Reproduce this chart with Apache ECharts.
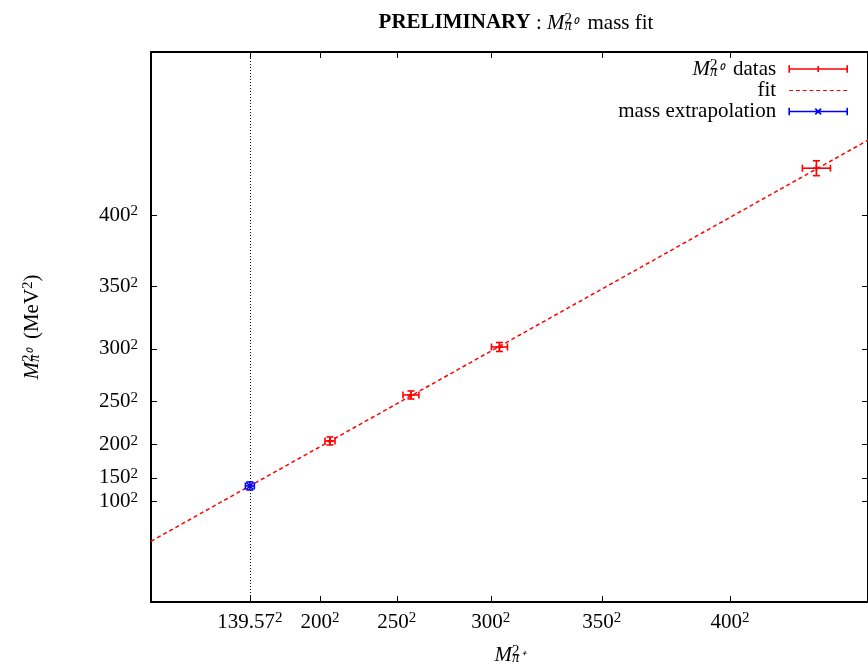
<!DOCTYPE html>
<html><head><meta charset="utf-8">
<script src="https://cdn.jsdelivr.net/npm/echarts@6/dist/echarts.min.js"></script>
<style>html,body{margin:0;padding:0;background:#fff}#c{width:868px;height:667px}</style>
</head><body><div id="c"></div>
<script>
// ---- data (MeV^2) ----
const xTickValues = [19479.78, 40000, 62500, 90000, 122500, 160000];
const xTickLabels = ['139.57', '200', '250', '300', '350', '400'];
const yTickValues = [10000, 22500, 40000, 62500, 90000, 122500, 160000];
const yTickLabels = ['100', '150', '200', '250', '300', '350', '400'];

const dataX    = [42930, 66630, 92530, 185300];
const dataY    = [41760, 65830, 90940, 184490];
const dataXErr = [1460, 2340, 2340, 4100];
const dataYErr = [2100, 2100, 2350, 3900];

const extrapX    = [19479.78];
const extrapY    = [18220];
const extrapXErr = [1300];
const extrapYErr = [2100];

const fitX = [-9460, 200400];
const fitY = [-10710, 199150];

const physPionMassSq = 19479.78;

// ---- chart ----
const FONT = 'Liberation Serif';
function rs(o) { return Object.assign({fontFamily: FONT, color: '#000', align: 'left', fontWeight: 'normal'}, o); }
const richBase = {
  n: rs({fontSize: 21, lineHeight: 22}),
  i: rs({fontSize: 21, fontStyle: 'italic', lineHeight: 22}),
  b: rs({fontSize: 21, fontWeight: 'bold', lineHeight: 22}),
  s: rs({fontSize: 15, lineHeight: 8, verticalAlign: 'top'}),
  s0: rs({fontSize: 15, lineHeight: 8, verticalAlign: 'top', width: 0}),
  u: rs({fontSize: 15, fontStyle: 'italic', lineHeight: 6, verticalAlign: 'bottom'})
};

function nearestLabel(vals, labs, v) {
  let best = 0;
  for (let k = 1; k < vals.length; k++) if (Math.abs(vals[k] - v) < Math.abs(vals[best] - v)) best = k;
  return labs[best];
}

function errRender(xs, ys, xe, ye, color, marker) {
  return function (params, api) {
    const i = params.dataIndex;
    const c = api.coord([xs[i], ys[i]]);
    const l = api.coord([xs[i] - xe[i], ys[i]]);
    const r = api.coord([xs[i] + xe[i], ys[i]]);
    const t = api.coord([xs[i], ys[i] + ye[i]]);
    const b = api.coord([xs[i], ys[i] - ye[i]]);
    const cap = 3.5, m = 3.5;
    const st = {stroke: color, lineWidth: 1.6, fill: null};
    const ln = (x1, y1, x2, y2) => ({type: 'line', shape: {x1, y1, x2, y2}, style: st});
    const ch = [
      ln(l[0], l[1], r[0], r[1]),
      ln(l[0], l[1] - cap, l[0], l[1] + cap),
      ln(r[0], r[1] - cap, r[0], r[1] + cap),
      ln(t[0], t[1], b[0], b[1]),
      ln(t[0] - cap, t[1], t[0] + cap, t[1]),
      ln(b[0] - cap, b[1], b[0] + cap, b[1])
    ];
    if (marker === 'x') {
      ch.push(ln(c[0] - m, c[1] - m, c[0] + m, c[1] + m));
      ch.push(ln(c[0] - m, c[1] + m, c[0] + m, c[1] - m));
    } else {
      ch.push(ln(c[0] - m, c[1], c[0] + m, c[1]));
      ch.push(ln(c[0], c[1] - m, c[0], c[1] + m));
    }
    return {type: 'group', children: ch};
  };
}

const xMin = -9460, xMax = 200400, yMin = -42500, yMax = 245300;
const axisCommonLine = {show: true, onZero: false, lineStyle: {color: '#000', width: 2}};
const tickStyle = {color: '#000', width: 1};
const dashIcon = 'path://M0,0h4v1h-4zM7,0h4v1h-4zM14,0h4v1h-4zM21,0h4v1h-4zM28,0h4v1h-4zM35,0h4v1h-4zM42,0h4v1h-4zM49,0h4v1h-4zM56,0h4v1h-4z';

const chart = echarts.init(document.getElementById('c'), null, {renderer: 'canvas'});
chart.setOption({
  animation: false,
  backgroundColor: '#fff',
  textStyle: {fontFamily: FONT},
  title: {
    text: '{b|PRELIMINARY}{n| : }{i|M}{s0|2}{u|π⁰}{n|  mass fit}',
    left: 511, top: 7, textAlign: 'center',
    textStyle: {rich: richBase, fontSize: 21, fontFamily: FONT, fontWeight: 'normal'}
  },
  grid: {left: 151, top: 52, right: 0, bottom: 65, containLabel: false, outerBoundsMode: 'none'},
  legend: {
    orient: 'vertical', right: 20, top: 58, align: 'right', padding: 0,
    itemWidth: 58, itemHeight: 8, itemGap: 0,
    textStyle: {fontFamily: FONT, fontSize: 21, color: '#000', padding: [0, 8, 0, 0], rich: richBase},
    formatter: function (name) {
      if (name === 'datas') return '{i|M}{s0|2}{u|π⁰}{n|  datas}';
      return '{n|' + name + '}';
    },
    data: [
      {name: 'datas', icon: 'path://M0,5L60,5M0,1L0,9M60,1L60,9M30,2L30,8',
       itemStyle: {color: 'transparent', borderColor: '#ff0000', borderWidth: 1.6}},
      {name: 'fit', icon: dashIcon, itemStyle: {color: '#ff0000', borderWidth: 0}},
      {name: 'mass extrapolation', icon: 'path://M0,5L60,5M0,1L0,9M60,1L60,9M27,2L33,8M27,8L33,2',
       itemStyle: {color: 'transparent', borderColor: '#0000ff', borderWidth: 1.6}}
    ]
  },
  xAxis: [{
    type: 'value', min: xMin, max: xMax, position: 'bottom',
    name: '{i|M}{s0|2}{u|π⁺}', nameLocation: 'middle', nameGap: 42,
    nameTextStyle: {rich: richBase},
    axisLine: axisCommonLine,
    axisTick: {show: true, inside: true, length: 6, customValues: xTickValues, lineStyle: tickStyle},
    axisLabel: {show: true, margin: 9, customValues: xTickValues, rich: richBase,
      formatter: v => '{n|' + nearestLabel(xTickValues, xTickLabels, v) + '}{s|2}'},
    splitLine: {show: false}
  }, {
    type: 'value', min: xMin, max: xMax, position: 'top',
    axisLine: axisCommonLine,
    axisTick: {show: true, inside: true, length: 6, customValues: xTickValues, lineStyle: tickStyle},
    axisLabel: {show: false},
    splitLine: {show: false}
  }],
  yAxis: [{
    type: 'value', min: yMin, max: yMax, position: 'left',
    name: '{i|M}{s0|2}{u|π⁰}{n|  (MeV}{s|2}{n|)}', nameLocation: 'middle', nameGap: 108, nameRotate: 90,
    nameTextStyle: {rich: richBase},
    axisLine: axisCommonLine,
    axisTick: {show: true, inside: true, length: 6, customValues: yTickValues, lineStyle: tickStyle},
    axisLabel: {show: true, margin: 13, customValues: yTickValues, rich: richBase,
      formatter: v => '{n|' + nearestLabel(yTickValues, yTickLabels, v) + '}{s|2}'},
    splitLine: {show: false}
  }, {
    type: 'value', min: yMin, max: yMax, position: 'right',
    axisLine: axisCommonLine,
    axisTick: {show: true, inside: true, length: 6, customValues: yTickValues, lineStyle: tickStyle},
    axisLabel: {show: false},
    splitLine: {show: false}
  }],
  series: [
    {
      name: 'physical mass', type: 'line', data: [], silent: true,
      markLine: {
        silent: true, symbol: 'none', label: {show: false},
        lineStyle: {color: '#000', type: [1, 2], width: 1},
        data: [{xAxis: physPionMassSq}]
      },
      z: 1
    },
    {
      name: 'fit', type: 'line', symbol: 'none', showSymbol: false,
      data: fitX.map((x, i) => [x, fitY[i]]),
      lineStyle: {color: '#ff0000', width: 1.5, type: [4, 3]},
      itemStyle: {color: '#ff0000'},
      z: 2
    },
    {
      name: 'datas', type: 'custom',
      data: dataX.map((x, i) => [x, dataY[i]]),
      renderItem: errRender(dataX, dataY, dataXErr, dataYErr, '#ff0000', '+'),
      itemStyle: {color: '#ff0000'},
      z: 3
    },
    {
      name: 'mass extrapolation', type: 'custom',
      data: extrapX.map((x, i) => [x, extrapY[i]]),
      renderItem: errRender(extrapX, extrapY, extrapXErr, extrapYErr, '#0000ff', 'x'),
      itemStyle: {color: '#0000ff'},
      z: 3
    }
  ]
});
</script>
</body></html>
